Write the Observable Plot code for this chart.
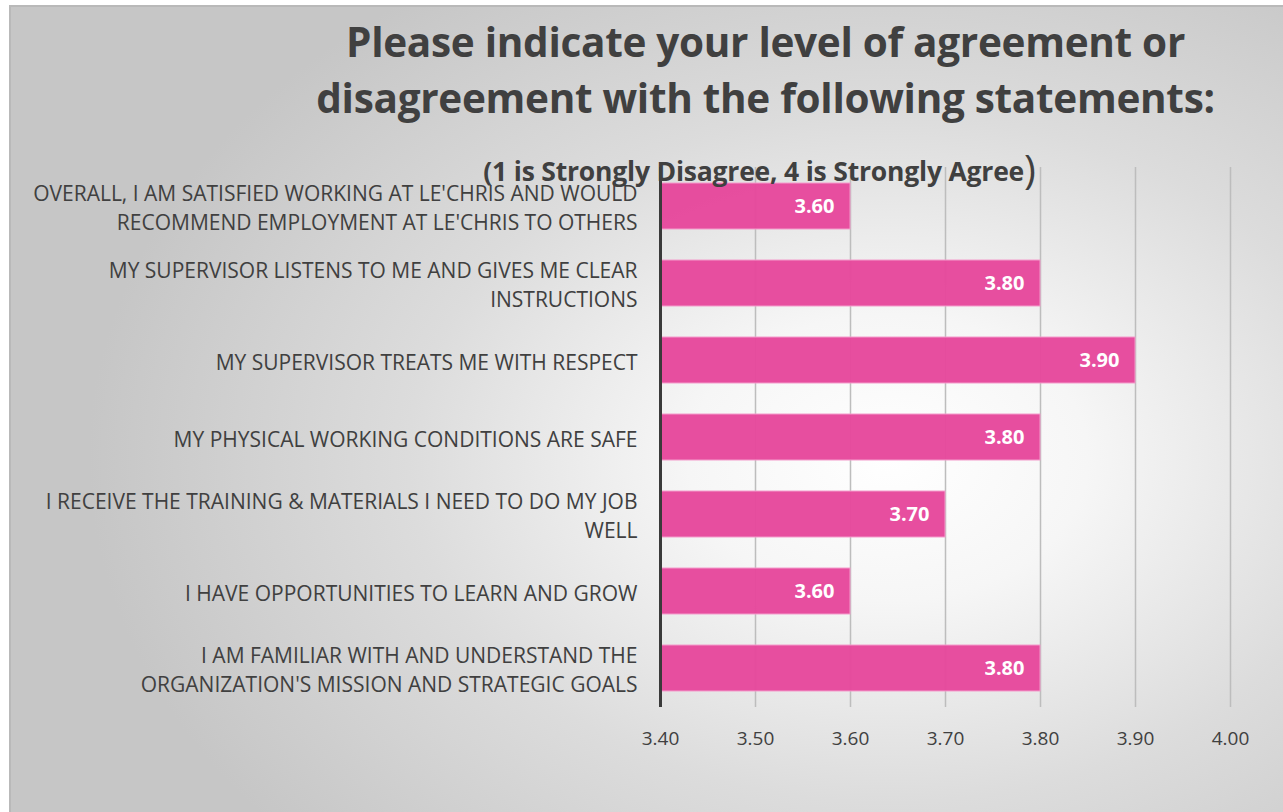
<!DOCTYPE html>
<html>
<head>
<meta charset="utf-8">
<script src="https://cdn.jsdelivr.net/npm/d3@7"></script>
<script src="https://cdn.jsdelivr.net/npm/@observablehq/plot@0.6"></script>
<style>
  html, body { margin: 0; padding: 0; background: #ffffff; }
  #page { position: relative; width: 1283px; height: 812px; overflow: hidden; }
  #frame {
    position: absolute; left: 9px; top: 5px; width: 1290px; height: 820px;
    border-left: 2px solid #b9b9b9; border-top: 2px solid #b9b9b9;
    background: radial-gradient(ellipse 62% 70% at 68% 55%, #ffffff 0%, #f6f6f6 25%, #dcdcdc 60%, #c6c6c6 100%);
  }
  #chart { position: absolute; left: 0; top: 0; }
  .title {
    position: absolute; left: 124px; width: 1283px; text-align: center;
    font-family: "Open Sans", sans-serif; font-weight: bold; color: #404040;
    white-space: nowrap;
  }
  #t1 { top: 14px; font-size: 40.5px; letter-spacing: -0.3px; }
  #t2 { top: 70px; font-size: 40.5px; letter-spacing: -0.3px; }
  #sub { top: 138px; font-size: 26.5px; left: 118px; letter-spacing: -0.2px; }
  #sub .paren { font-size: 40px; font-weight: normal; position: relative; top: 3px; }
</style>
</head>
<body>
<div id="page">
  <div id="frame"></div>
  <div id="chart"></div>
  <div class="title" id="t1">Please indicate your level of agreement or</div>
  <div class="title" id="t2">disagreement with the following statements:</div>
  <div class="title" id="sub">(1 is Strongly Disagree, 4 is Strongly Agree<span class="paren">)</span></div>
</div>
<script>
const categories = [
  "OVERALL, I AM SATISFIED WORKING AT LE'CHRIS AND WOULD\nRECOMMEND EMPLOYMENT AT LE'CHRIS TO OTHERS",
  "MY SUPERVISOR LISTENS TO ME AND GIVES ME CLEAR\nINSTRUCTIONS",
  "MY SUPERVISOR TREATS ME WITH RESPECT",
  "MY PHYSICAL WORKING CONDITIONS ARE SAFE",
  "I RECEIVE THE TRAINING & MATERIALS I NEED TO DO MY JOB\nWELL",
  "I HAVE OPPORTUNITIES TO LEARN AND GROW",
  "I AM FAMILIAR WITH AND UNDERSTAND THE\nORGANIZATION'S MISSION AND STRATEGIC GOALS"
];
const values = [3.60, 3.80, 3.90, 3.80, 3.70, 3.60, 3.80];
const xTicks = [3.40, 3.50, 3.60, 3.70, 3.80, 3.90, 4.00];
const xMin = 3.40;

const data = categories.map((c, i) => ({category: c, value: values[i]}));

const chart = Plot.plot({
  width: 1283,
  height: 812,
  marginLeft: 660,
  marginRight: 53,
  marginTop: 167,
  marginBottom: 105,
  style: {background: "transparent", fontFamily: "'Open Sans', sans-serif", color: "#404040"},
  x: {domain: [xTicks[0], xTicks[xTicks.length - 1]]},
  y: {domain: categories, paddingInner: 0.4, paddingOuter: 0.2},
  marks: [
    Plot.ruleX(xTicks.slice(1), {stroke: "#bdbdbd", strokeWidth: 1.5}),
    Plot.barX(data, {y: "category", x1: xMin, x2: "value", fill: "#e6489c", fillOpacity: 0.97, stroke: "#f39ccb", strokeWidth: 1}),
    Plot.text(data, {y: "category", x: "value", text: d => d.value.toFixed(2), textAnchor: "end", dx: -16, fill: "white", fontWeight: "bold", fontSize: 20}),
    Plot.ruleX([xMin], {stroke: "#3a3a3a", strokeWidth: 3}),
    Plot.axisX({ticks: xTicks, tickFormat: d => d.toFixed(2), tickSize: 0, tickPadding: 24, fontSize: 19, label: null, fill: "#404040"}),
    Plot.axisY({tickSize: 0, tickPadding: 23, fontSize: 21, lineHeight: 1.38, label: null, fill: "#404040", textOverflow: null})
  ]
});
document.getElementById("chart").appendChild(chart);
</script>
</body>
</html>
